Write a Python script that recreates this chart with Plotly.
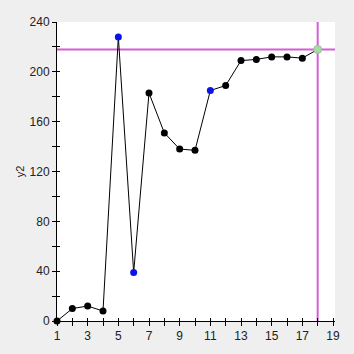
import plotly.graph_objects as go

xs = list(range(1, 19))
y2 = [0, 10, 12, 8, 228, 39, 183, 151, 138, 137, 185, 189, 209, 210, 212, 212, 211, 218]
blue_idx = [5, 6, 11]
cursor_x = 18
cursor_y = 218

x_ticks = list(range(1, 20))
x_labels = [str(v) if v % 2 == 1 else "" for v in x_ticks]
y_ticks = list(range(0, 241, 20))
y_labels = [str(v) if v % 40 == 0 else "" for v in y_ticks]

fig = go.Figure()
fig.add_trace(go.Scatter(x=xs, y=y2, mode="lines", line=dict(color="black", width=1),
                         hoverinfo="skip", showlegend=False))
black_x = [x for x in xs if x not in blue_idx and x != cursor_x]
black_y = [y2[x - 1] for x in black_x]
fig.add_trace(go.Scatter(x=black_x, y=black_y, mode="markers", cliponaxis=False,
                         marker=dict(color="black", size=7), showlegend=False))
fig.add_trace(go.Scatter(x=blue_idx, y=[y2[i - 1] for i in blue_idx], mode="markers",
                         marker=dict(color="#0a14e6", size=7), showlegend=False))
fig.add_trace(go.Scatter(x=[cursor_x], y=[y2[cursor_x - 1]], mode="markers",
                         marker=dict(color="#9be39b", size=8, line=dict(color="#b0b0b0", width=1)),
                         showlegend=False))
# invisible trace for overlay axes (inside ticks)
fig.add_trace(go.Scatter(x=[1], y=[0], xaxis="x2", yaxis="y2", mode="markers",
                         marker=dict(opacity=0), hoverinfo="skip", showlegend=False))

fig.add_shape(type="line", xref="paper", yref="y", x0=0, x1=1, y0=cursor_y, y1=cursor_y,
              line=dict(color="#d35fd3", width=2), layer="below")
fig.add_shape(type="line", xref="x", yref="paper", x0=cursor_x, x1=cursor_x, y0=0, y1=1,
              line=dict(color="#d35fd3", width=2), layer="below")

font = dict(family="Liberation Sans, Arial, sans-serif", size=12, color="#222222")
xr = [1, 19.13]
yr = [0, 240]
fig.update_layout(
    width=354, height=354,
    margin=dict(l=57, r=19, t=22, b=33),
    paper_bgcolor="#efefef", plot_bgcolor="white",
    font=font,
    xaxis=dict(range=xr, tickvals=x_ticks, ticktext=x_labels, ticks="outside", ticklen=4,
               tickcolor="black", showline=True, linecolor="black", linewidth=1,
               showgrid=False, zeroline=False, tickfont=font),
    yaxis=dict(range=yr, tickvals=y_ticks, ticktext=y_labels, ticks="outside", ticklen=4,
               tickcolor="black", showline=True, linecolor="black", linewidth=1,
               showgrid=False, zeroline=False, tickfont=font,
               title=dict(text="y2", font=dict(family=font["family"], size=11, color="#222222"),
                          standoff=2)),
    xaxis2=dict(range=xr, overlaying="x", tickvals=x_ticks, ticks="inside", ticklen=3,
                tickcolor="black", showticklabels=False, showgrid=False, zeroline=False,
                showline=False),
    yaxis2=dict(range=yr, overlaying="y", tickvals=y_ticks, ticks="inside", ticklen=3,
                tickcolor="black", showticklabels=False, showgrid=False, zeroline=False,
                showline=False),
)
fig.write_html("out.html")
